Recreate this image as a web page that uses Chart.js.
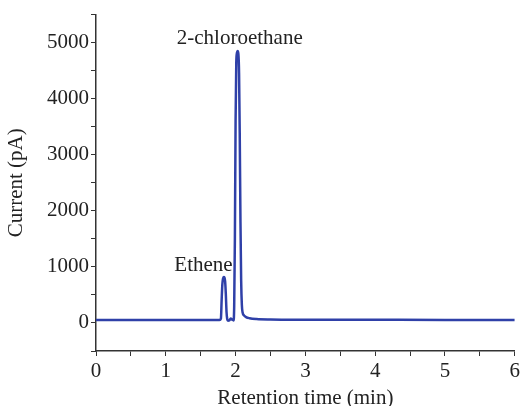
<!DOCTYPE html>
<html>
<head>
<meta charset="utf-8">
<script src="https://cdn.jsdelivr.net/npm/chart.js@4"></script>
<style>
  html, body { margin: 0; padding: 0; background: #fff; }
  #wrap { width: 523px; height: 406px; }
</style>
</head>
<body>
<div id="wrap"><canvas id="gcChart"></canvas></div>
<script>
// retention time (min) and detector current (pA)
const times = [0, 0.5, 1.0, 1.5, 1.77, 1.79, 1.80, 1.81, 1.82, 1.83, 1.84, 1.85, 1.86, 1.87, 1.88, 1.89,
  1.91, 1.93, 1.95, 1.97, 1.98, 1.99, 2.00, 2.01, 2.02, 2.03, 2.04, 2.05, 2.06, 2.07, 2.08,
  2.09, 2.10, 2.12, 2.15, 2.2, 2.3, 2.5, 3.0, 4.0, 5.0, 6.0];
const current = [55, 55, 55, 55, 55, 80, 400, 680, 790, 820, 810, 740, 520, 200, 70, 40,
  45, 80, 60, 45, 300, 1500, 3600, 4650, 4820, 4850, 4800, 4450, 3300, 1800, 750,
  320, 190, 135, 105, 85, 70, 62, 58, 56, 55, 55];

const peakNames = ['2-chloroethane', 'Ethene'];
const peakLabelX = [2.06, 1.54];
const peakLabelY = [4980, 930];

const ink = '#333333';
const serif = '"Liberation Serif", "DejaVu Serif", serif';

const peakLabels = {
  id: 'peakLabels',
  afterDatasetsDraw(chart) {
    const { ctx, scales } = chart;
    ctx.save();
    ctx.fillStyle = '#222';
    ctx.font = '21px ' + serif;
    ctx.textAlign = 'center';
    ctx.textBaseline = 'alphabetic';
    peakNames.forEach((name, i) => {
      ctx.fillText(name, scales.x.getPixelForValue(peakLabelX[i]), scales.y.getPixelForValue(peakLabelY[i]));
    });
    ctx.restore();
  }
};

new Chart(document.getElementById('gcChart'), {
  type: 'scatter',
  data: {
    datasets: [{
      data: times.map((t, i) => ({ x: t, y: current[i] })),
      showLine: true,
      borderColor: '#2f40a8',
      borderWidth: 2.5,
      pointRadius: 0,
      cubicInterpolationMode: 'monotone'
    }]
  },
  options: {
    responsive: true,
    maintainAspectRatio: false,
    animation: false,
    layout: { padding: { top: 13, right: 5, left: 0, bottom: 0 } },
    plugins: { legend: { display: false }, tooltip: { enabled: false } },
    scales: {
      x: {
        type: 'linear',
        min: 0, max: 6,
        ticks: {
          stepSize: 0.5,
          autoSkip: false,
          color: '#222',
          font: { family: serif, size: 21 },
          padding: 3,
          maxRotation: 0,
          callback: v => Number.isInteger(v) ? v : ''
        },
        grid: { drawOnChartArea: false, color: ink, tickLength: 5, tickColor: ink },
        border: { color: ink, width: 1.5 },
        title: { display: true, text: 'Retention time (min)', color: '#222', font: { family: serif, size: 21 }, padding: { top: 3, bottom: -5 } },
        afterFit: s => { s.height = 55; }
      },
      y: {
        min: -500, max: 5500,
        ticks: {
          stepSize: 500,
          autoSkip: false,
          color: '#222',
          font: { family: serif, size: 21 },
          padding: 2,
          callback: v => v % 1000 === 0 ? v : ''
        },
        grid: { drawOnChartArea: false, color: ink, tickLength: 5, tickColor: ink },
        border: { color: ink, width: 1.5 },
        title: { display: true, text: 'Current (pA)', color: '#222', font: { family: serif, size: 21 }, padding: { bottom: 4 } },
        afterFit: s => { s.width = 96; }
      }
    }
  },
  plugins: [peakLabels]
});
</script>
</body>
</html>
